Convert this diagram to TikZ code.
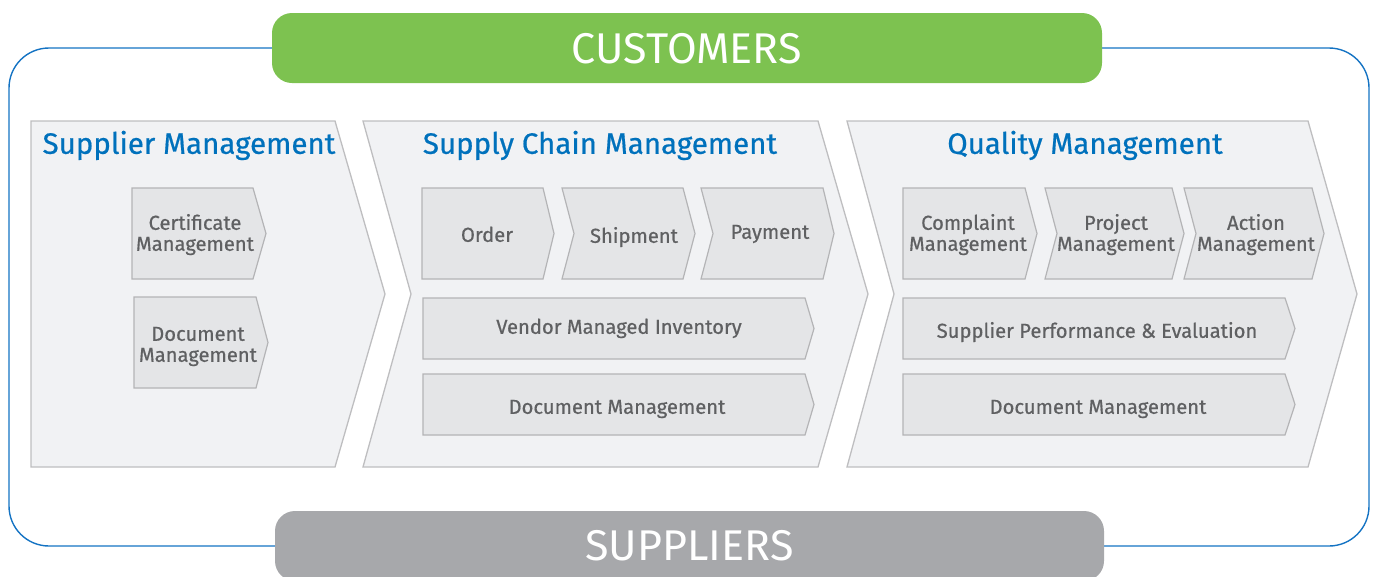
\documentclass[tikz,border=0pt]{standalone}
\usepackage{fontspec}
\setmainfont{Fira Sans}
\newfontfamily\stepfont[FakeBold=0.6]{Fira Sans}
\definecolor{titleblue}{RGB}{0,113,188}
\definecolor{frameblue}{RGB}{20,115,195}
\definecolor{custgreen}{RGB}{125,194,80}
\definecolor{suppgrey}{RGB}{167,168,171}
\definecolor{panelfill}{RGB}{241,242,244}
\definecolor{panelline}{RGB}{190,190,192}
\definecolor{boxfill}{RGB}{228,229,231}
\definecolor{boxline}{RGB}{180,180,182}
\definecolor{boxtext}{RGB}{95,96,98}
\tikzstyle{frame} = [draw=frameblue, line width=1.4pt, rounded corners=40pt]
\tikzstyle{band} = [rounded corners=20pt]
\tikzstyle{bandtext} = [text=white, font=\fontsize{43}{45}\selectfont]
\tikzstyle{panel} = [draw=panelline, fill=panelfill, line width=1.3pt, line join=miter]
\tikzstyle{stepbox} = [draw=boxline, fill=boxfill, line width=1.2pt]
\tikzstyle{paneltitle} = [text=titleblue, font=\stepfont\fontsize{29.5}{32}\selectfont, anchor=south, inner sep=0pt, text depth=0pt]
\tikzstyle{steptext} = [text=boxtext, font=\stepfont\fontsize{20.2}{21}\selectfont, align=center, anchor=south, inner sep=0pt, text depth=0pt]
\newcommand{\chevron}[7]{\draw[#1] (#2,#3) -- (#4,#3) -- ({#4+#6},{(#3+#5)/2}) -- (#4,#5) -- (#2,#5) -- ({#2+#7},{(#3+#5)/2}) -- cycle;}
\begin{document}
\begin{tikzpicture}[x=1pt, y=-1pt]
\useasboundingbox (0,0) rectangle (1375,576);
\clip (0,0) rectangle (1375,576);

\draw[frame] (9,48) rectangle (1369,546);
\fill[band, custgreen] (272,13) rectangle (1102,83);
\fill[band, suppgrey] (275,511) rectangle (1104,581);
\node at (687,48.5) (customers) [bandtext] {CUSTOMERS};
\node at (689.5,546) (suppliers) [bandtext] {SUPPLIERS};

\chevron{panel}{31}{121}{335}{467}{50}{0}
\chevron{panel}{363}{121}{818}{467}{50}{48}
\chevron{panel}{847}{121}{1308}{467}{49}{47}

\node at (189,154) (suppliermgmt) [paneltitle] {Supplier Management};
\node at (600,154) (scm) [paneltitle] {Supply Chain Management};
\node at (1085,154) (qm) [paneltitle] {Quality Management};

\chevron{stepbox}{132}{188}{253}{279}{13}{0}
\chevron{stepbox}{134}{297}{256}{388}{12}{0}
\node at (195,251) (certificate) [steptext] {Certificate\\Management};
\node at (198,362) (document1) [steptext] {Document\\Management};

\chevron{stepbox}{422}{188}{543}{279}{11}{0}
\chevron{stepbox}{562}{188}{683}{279}{12}{12}
\chevron{stepbox}{701}{188}{823}{279}{11}{12}
\chevron{stepbox}{423}{298}{805}{359}{9}{0}
\chevron{stepbox}{423}{374}{805}{435}{9}{0}
\node at (487,242) (order) [steptext] {Order};
\node at (634,243) (shipment) [steptext] {Shipment};
\node at (770,239) (payment) [steptext] {Payment};
\node at (619,334) (vmi) [steptext] {Vendor Managed Inventory};
\node at (617,414) (document2) [steptext] {Document Management};

\chevron{stepbox}{903}{188}{1025}{279}{12}{0}
\chevron{stepbox}{1045}{188}{1172}{279}{12}{12}
\chevron{stepbox}{1184}{188}{1312}{279}{12}{12}
\chevron{stepbox}{903}{298}{1285}{359}{10}{0}
\chevron{stepbox}{903}{374}{1285}{435}{10}{0}
\node at (968,251) (complaint) [steptext] {Complaint\\Management};
\node at (1116,251) (project) [steptext] {Project\\Management};
\node at (1256,251) (action) [steptext] {Action\\Management};
\node at (1097,338) (performance) [steptext] {Supplier Performance \& Evaluation};
\node at (1098,414) (document3) [steptext] {Document Management};

\end{tikzpicture}
\end{document}
